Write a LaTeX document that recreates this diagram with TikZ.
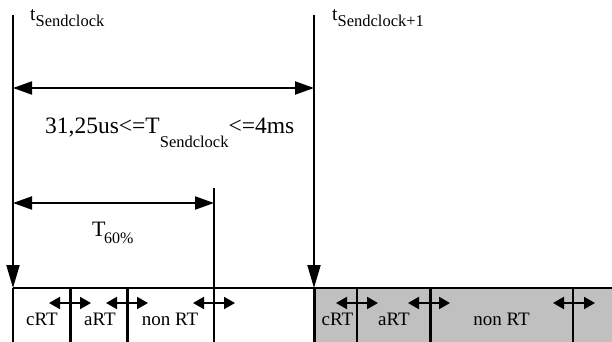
\documentclass[tikz,border=0pt]{standalone}
\usepackage{fontspec}
\setmainfont{Liberation Serif}
\usetikzlibrary{arrows.meta}
\definecolor{boxgray}{RGB}{192,192,192}
\begin{document}
\begin{tikzpicture}[x=1pt,y=-1pt,
  clockline/.style={line width=2pt,-{Triangle[length=23pt,width=13pt]}},
  plainline/.style={line width=2pt},
  thickdiv/.style={line width=3pt},
  thindiv/.style={line width=1.5pt},
  dimarrow/.style={line width=2pt,{Triangle[length=19pt,width=13pt]}-{Triangle[length=19pt,width=13pt]}},
  smallarrow/.style={line width=2pt,{Triangle[length=11pt,width=12pt]}-{Triangle[length=11pt,width=12pt]}},
  ttl/.style={inner sep=0pt,anchor=base west},
  seg/.style={inner sep=0pt,anchor=base,font=\fontsize{19}{22}\selectfont}
]
\useasboundingbox (0,0) rectangle (612,342);
\fill[boxgray] (315,288) rectangle (612,342);

% coordinates
\coordinate (L0) at (13,15);
\coordinate (L1) at (13,288);
\coordinate (L2) at (13,342);
\coordinate (R0) at (314,15);
\coordinate (R1) at (314,288);
\coordinate (R2) at (314,342);
\coordinate (P0) at (214,188);
\coordinate (P2) at (214,342);
\coordinate (BE) at (612,288);

% clock lines
\draw[clockline] (L0) -- (L1);
\draw[plainline] (L1) -- (L2);
\draw[clockline] (R0) -- (R1);
\draw[thickdiv] (R1) -- (R2);
\draw[thindiv] (P0) -- (P2);
\draw[thindiv] (L1) -- (BE);

% dividers
\foreach \x/\n in {70/a,127/b,430/e}{
  \coordinate (D\n t) at (\x,288);
  \coordinate (D\n b) at (\x,342);
  \draw[thickdiv] (D\n t) -- (D\n b);
}
\coordinate (Dct) at (357,288); \coordinate (Dcb) at (357,342);
\draw[plainline] (Dct) -- (Dcb);
\coordinate (Ddt) at (573,288); \coordinate (Ddb) at (573,342);
\draw[thindiv] (Ddt) -- (Ddb);

% dimension arrows
\coordinate (A1) at (13,88); \coordinate (A2) at (314,88);
\draw[dimarrow] (A1) -- (A2);
\coordinate (B1) at (13,203); \coordinate (B2) at (214,203);
\draw[dimarrow] (B1) -- (B2);

% small arrows
\foreach \c/\n in {70/1,127/2,214/3,357/4,429/5,574/6}{
  \coordinate (s\n a) at (\c-21,303);
  \coordinate (s\n b) at (\c+21,303);
  \draw[smallarrow] (s\n a) -- (s\n b);
}

% labels
\node[ttl,font=\fontsize{19.5}{22}\selectfont] (tS) at (30,21)
  {t\raisebox{-6pt}{\fontsize{16.5}{18}\selectfont Sendclock}};
\node[ttl,font=\fontsize{19.5}{22}\selectfont] (tS1) at (332,21)
  {t\raisebox{-6pt}{\fontsize{16.5}{18}\selectfont Sendclock+1}};
\node[ttl,font=\fontsize{23.5}{26}\selectfont] (TS) at (45,133)
  {31,25us<=T\raisebox{-14pt}{\fontsize{16.5}{18}\selectfont Sendclock}<=4ms};
\node[ttl,font=\fontsize{22}{24}\selectfont] (T60) at (92,236)
  {T\kern-1.5pt\raisebox{-7pt}{\fontsize{16}{18}\selectfont 60\%}};

\node[seg] (c1) at (42,325) {cRT};
\node[seg] (a1) at (100,325) {aRT};
\node[seg] (n1) at (170,325) {non RT};
\node[seg] (c2) at (337.5,325) {cRT};
\node[seg] (a2) at (394,325) {aRT};
\node[seg] (n2) at (501.5,325) {non RT};
\end{tikzpicture}
\end{document}
